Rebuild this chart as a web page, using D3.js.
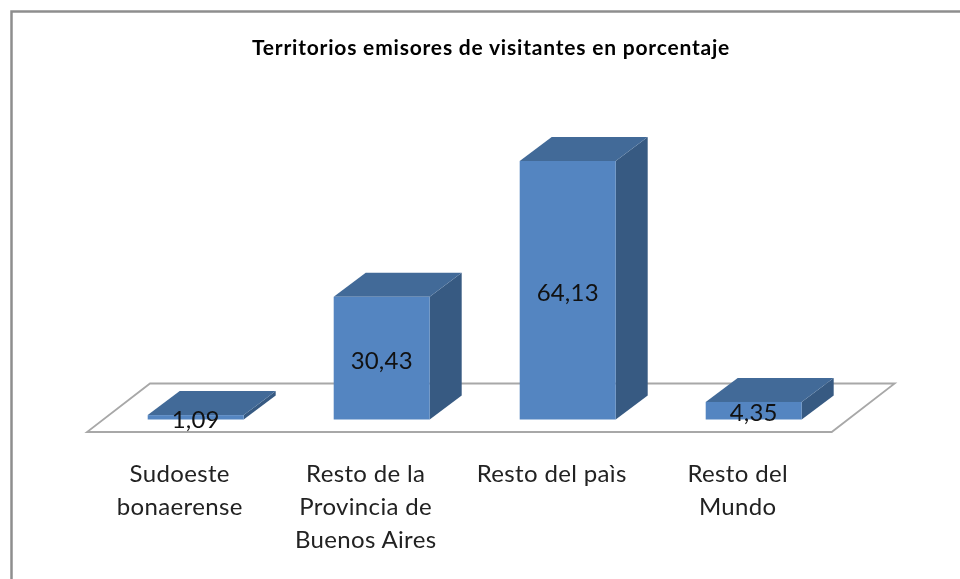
<!DOCTYPE html>
<html>
<head>
<meta charset="utf-8">
<script src="https://cdn.jsdelivr.net/npm/d3@7"></script>
<style>
  html, body { margin: 0; padding: 0; background: #fff; }
  svg { display: block; filter: blur(0.5px); }
  text { font-family: Lato, "Open Sans", sans-serif; }
</style>
</head>
<body>
<div id="chart"></div>
<script>
const titleText = 'Territorios emisores de visitantes en porcentaje';
const categories = ['Sudoeste\nbonaerense', 'Resto de la\nProvincia de\nBuenos Aires', 'Resto del paìs', 'Resto del\nMundo'];
const values = [1.09, 30.43, 64.13, 4.35];
const valueLabels = ['1,09', '30,43', '64,13', '4,35'];

const width = 960;
const height = 579;
const baseline = 419.5;
const depthX = 32;
const depthY = 24;

const colorFront = '#5485c1';
const colorTop = '#426a98';
const colorSide = '#375a82';
const colorFloor = '#a8a8a8';

const svg = d3.select('#chart')
  .append('svg')
  .attr('width', width)
  .attr('height', height)
  .attr('viewBox', [0, 0, width, height]);

// frame, only top and left show in the crop
svg.append('path')
  .attr('d', d3.line()([[11.5, height + 5], [11.5, 11.5], [width + 5, 11.5]]))
  .attr('fill', 'none')
  .attr('stroke', '#8e8e8e')
  .attr('stroke-width', 2.5);

const x = d3.scaleBand()
  .domain(categories)
  .range([102.7, 846.7])
  .paddingInner(90 / 186)
  .paddingOuter(45 / 186);

const y = d3.scaleLinear()
  .domain([0, 64.13])
  .range([baseline, 161]);

svg.append('text')
  .attr('x', 491)
  .attr('y', 55)
  .attr('text-anchor', 'middle')
  .attr('font-size', 21)
  .attr('font-weight', 700)
  .attr('letter-spacing', 0.8)
  .attr('fill', '#000')
  .text(titleText);

// floor of the 3d plot
const floorLeft = x.range()[0] - 15.7;
const floorRight = x.range()[1] - 15;
const floorFront = baseline + 12.5;
const floorBack = baseline - 36;
svg.append('path')
  .attr('d', d3.line()([
    [floorLeft, floorFront],
    [floorRight, floorFront],
    [floorRight + 63, floorBack],
    [floorLeft + 63, floorBack]
  ]) + 'Z')
  .attr('fill', '#fff')
  .attr('stroke', colorFloor)
  .attr('stroke-width', 1.8);

const rows = d3.zip(categories, values, valueLabels);

const bars = svg.selectAll('.bar')
  .data(rows)
  .enter()
  .append('g')
  .attr('class', 'bar');

bars.append('path')
  .attr('fill', colorSide)
  .attr('d', d => {
    const x1 = x(d[0]) + x.bandwidth();
    return d3.line()([
      [x1, baseline],
      [x1 + depthX, baseline - depthY],
      [x1 + depthX, y(d[1]) - depthY],
      [x1, y(d[1])]
    ]) + 'Z';
  });

bars.append('path')
  .attr('fill', colorTop)
  .attr('d', d => {
    const x0 = x(d[0]);
    const top = y(d[1]);
    return d3.line()([
      [x0, top],
      [x0 + depthX, top - depthY],
      [x0 + x.bandwidth() + depthX, top - depthY],
      [x0 + x.bandwidth(), top]
    ]) + 'Z';
  });

bars.append('rect')
  .attr('fill', colorFront)
  .attr('x', d => x(d[0]))
  .attr('y', d => y(d[1]))
  .attr('width', x.bandwidth())
  .attr('height', d => baseline - y(d[1]));

bars.append('text')
  .attr('x', d => x(d[0]) + x.bandwidth() / 2)
  .attr('y', d => (y(d[1]) + baseline) / 2 + 2)
  .attr('dy', '0.35em')
  .attr('text-anchor', 'middle')
  .attr('font-size', 24)
  .attr('letter-spacing', 0.2)
  .attr('fill', '#111')
  .text(d => d[2]);

// category labels sit under the front of the floor
const axis = svg.append('g')
  .attr('transform', `translate(-16,${baseline})`)
  .call(d3.axisBottom(x).tickSize(0).tickFormat(''));
axis.select('.domain').remove();

axis.selectAll('.tick text')
  .attr('y', 62)
  .attr('dy', 0)
  .attr('font-size', 24)
  .attr('letter-spacing', 0.35)
  .attr('fill', '#222')
  .attr('font-family', 'Lato, "Open Sans", sans-serif')
  .each(function (d) {
    d3.select(this).selectAll('tspan')
      .data(d.split('\n'))
      .enter()
      .append('tspan')
      .attr('x', 0)
      .attr('dy', (t, i) => i ? 33 : 0)
      .text(t => t);
  });
</script>
</body>
</html>
